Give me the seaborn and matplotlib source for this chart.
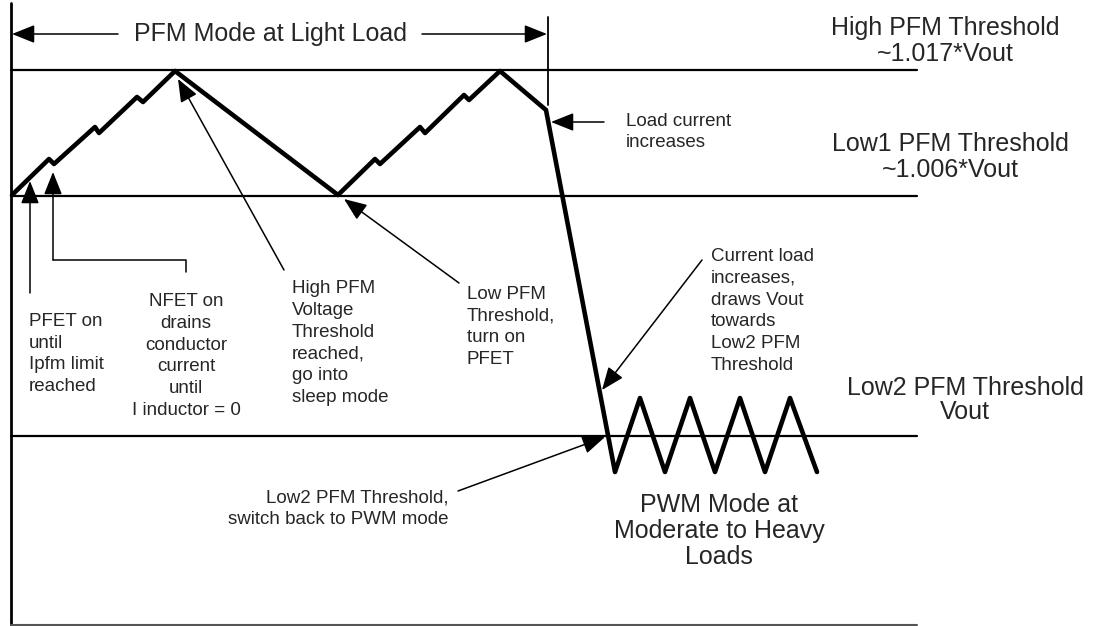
import pandas as pd
import matplotlib
matplotlib.use("Agg")
import matplotlib.pyplot as plt
import seaborn as sns

sns.set_theme(style="white")
plt.rcParams['font.family'] = ['Liberation Sans', 'DejaVu Sans']

# Output voltage waveform (diagram coordinates, y grows downwards)
wave_x = [12, 49, 54, 95, 99, 137, 143, 175, 338, 375, 380, 420, 425, 464, 469, 500,
          546, 615, 640, 665, 690, 715, 740, 765, 790, 817]
wave_y = [195, 159, 164, 127, 133, 97, 102, 71, 195, 159, 164, 127, 133, 95, 100, 71,
          110, 472, 398, 472, 398, 472, 398, 472, 398, 472]

# Threshold levels
level_names = ["High PFM Threshold\n~1.017*Vout", "Low1 PFM Threshold\n~1.006*Vout",
               "Low2 PFM Threshold\nVout"]
level_y = [70, 196, 436]
level_label_x = [945, 950, 965]
level_label_y = [41, 157, 400]
level_spacing = [1.1, 1.1, 0.98]

# Annotation texts: (text, x, y, ha)
notes = [
    ("PFET on\nuntil\nIpfm limit\nreached", 29, 354, "left"),
    ("NFET on\ndrains\nconductor\ncurrent\nuntil\nI inductor = 0", 186, 356, "center"),
    ("High PFM\nVoltage\nThreshold\nreached,\ngo into\nsleep mode", 292, 343, "left"),
    ("Low PFM\nThreshold,\nturn on\nPFET", 467, 327, "left"),
    ("Load current\nincreases", 626, 132, "left"),
    ("Current load\nincreases,\ndraws Vout\ntowards\nLow2 PFM\nThreshold", 711, 311, "left"),
    ("Low2 PFM Threshold,\nswitch back to PWM mode", 449, 509, "right"),
]

# Pointer arrows: tail -> head
arrow_tail = [(30, 293), (284, 270), (459, 283), (604, 122), (702, 260), (458, 491)]
arrow_head = [(30, 181), (178, 79), (344, 199), (551, 122), (602, 390), (605, 437)]

fig = plt.figure(figsize=(10.94, 6.26), dpi=100)
ax = fig.add_axes([0, 0, 1, 1])

# frame: left axis and bottom axis
ax.plot([11, 11], [3, 626], color="black", lw=2)
ax.plot([11, 917], [624.5, 624.5], color="#555555", lw=1.5)

# threshold lines and labels
for name, y, lx, ly, sp in zip(level_names, level_y, level_label_x, level_label_y, level_spacing):
    ax.plot([11, 917], [y, y], color="black", lw=1.6)
    ax.text(lx, ly, name, ha="center", va="center", fontsize=18,
            multialignment="center", linespacing=sp)

# waveform
df = pd.DataFrame({"x": wave_x, "y": wave_y})
sns.lineplot(data=df, x="x", y="y", sort=False, estimator=None, color="black",
             lw=3.3, ax=ax)
ax.set_xlim(0, 1094)
ax.set_ylim(626, 0)
ax.axis("off")

aprops = dict(arrowstyle="-|>,head_length=0.7,head_width=0.28", color="black",
              lw=1.1, shrinkA=0, shrinkB=0, mutation_scale=20)

# PFM Mode at Light Load span
ax.plot([548, 548], [17, 105], color="black", lw=1.3)
ax.text(271, 34, "PFM Mode at Light Load", ha="center", va="center", fontsize=18)
ax.annotate("", xy=(12, 34), xytext=(118, 34), arrowprops=aprops)
ax.annotate("", xy=(547, 34), xytext=(422, 34), arrowprops=aprops)

# PWM label
ax.text(719, 531, "PWM Mode at\nModerate to Heavy\nLoads", ha="center", va="center",
        fontsize=18, linespacing=1.08)

# notes
for txt, x, y, ha in notes:
    ax.text(x, y, txt, ha=ha, va="center", fontsize=13.5, multialignment=ha,
            linespacing=1.36)

# straight pointer arrows
for (tx, ty), (hx, hy) in zip(arrow_tail, arrow_head):
    ax.annotate("", xy=(hx, hy), xytext=(tx, ty), arrowprops=aprops)

# bracket pointer for NFET note
ax.plot([186, 186, 53], [272, 260, 260], color="black", lw=1.1)
ax.annotate("", xy=(53, 172), xytext=(53, 260), arrowprops=aprops)

fig.savefig("out.png", dpi=100, facecolor="white")
